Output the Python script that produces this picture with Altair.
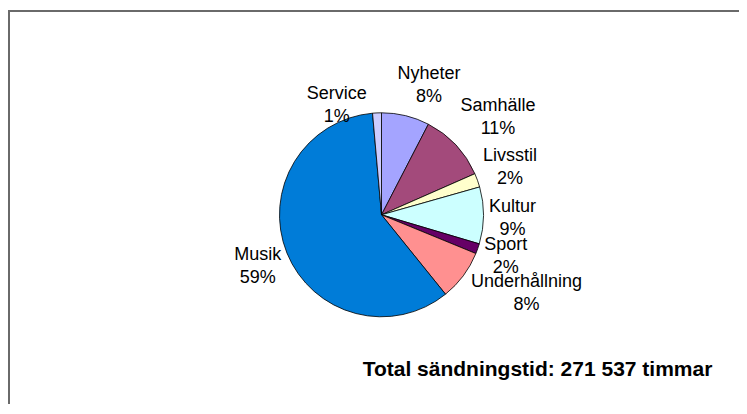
import altair as alt
import pandas as pd

categories = ["Nyheter", "Samhälle", "Livsstil", "Kultur", "Sport", "Underhållning", "Musik", "Service"]
shares = [7.6, 10.8, 2.2, 9.0, 1.6, 8.0, 59.4, 1.4]
pct_labels = ["8%", "11%", "2%", "9%", "2%", "8%", "59%", "1%"]
colors = ["#A4A4FF", "#A34A7B", "#FFFFCC", "#CCFFFF", "#660066", "#FF9090", "#007CD8", "#CCCCFF"]
total_text = ["Total sändningstid: 271 537 timmar"]

df = pd.DataFrame({
    "cat": categories,
    "share": shares,
    "pct": pct_labels,
    "order": list(range(len(categories))),
})

W, H = 731, 396
CX, CY, R = 373.5, 206.8, 102
theta_scale = alt.Scale(domain=[0, 100], range=[0, 6.283185307179586])

# label placement (radius in px, angle nudge in % units) — layout only
label_r = "{'Nyheter':138,'Samhälle':152,'Livsstil':137,'Kultur':131,'Sport':131,'Underhållning':165,'Musik':134,'Service':118}[datum.cat]"
label_nudge = "{'Nyheter':1.8,'Samhälle':0.9,'Livsstil':-0.1,'Kultur':0.3,'Sport':-0.3,'Underhållning':-2.3,'Musik':-0.2,'Service':-5.5}[datum.cat]"

base = alt.Chart(df).transform_window(
    cum="sum(share)", sort=[{"field": "order"}], frame=[None, 0]
).transform_calculate(
    start="datum.cum - datum.share",
    mid="datum.cum - datum.share / 2",
)

arcs = base.mark_arc(radius=R, stroke="black", strokeWidth=0.8).encode(
    theta=alt.Theta("start:Q", scale=theta_scale),
    theta2="cum:Q",
    color=alt.Color("cat:N", scale=alt.Scale(domain=categories, range=colors), legend=None),
    x=alt.value(CX),
    y=alt.value(CY),
)

labels = base.transform_calculate(
    lt="datum.mid + " + label_nudge,
    lr=label_r,
    label="datum.cat + '\\n' + datum.pct",
).mark_text(
    font="Liberation Sans", fontSize=18, lineHeight=23, lineBreak="\n",
    align="center", baseline="middle", color="black", dy=-11.5,
).encode(
    theta=alt.Theta("lt:Q", scale=theta_scale),
    radius=alt.Radius("lr:Q", scale=None),
    text="label:N",
    x=alt.value(CX),
    y=alt.value(CY),
)

total = alt.Chart(pd.DataFrame({"t": total_text})).mark_text(
    font="Liberation Sans", fontSize=21, fontWeight="bold", align="center", baseline="middle", color="black"
).encode(
    text="t:N",
    x=alt.value(529.5),
    y=alt.value(362),
)

frame_src = pd.DataFrame({"t": total_text})
frame_top = alt.Chart(frame_src).mark_rule(stroke="#6a6a6a", strokeWidth=2).encode(
    x=alt.value(0), x2=alt.value(W), y=alt.value(3)
)
frame_left = alt.Chart(frame_src).mark_rule(stroke="#6a6a6a", strokeWidth=2).encode(
    x=alt.value(1), y=alt.value(2), y2=alt.value(H)
)

chart = alt.layer(frame_top, frame_left, arcs, labels, total).properties(
    width=W, height=H, autosize=alt.AutoSizeParams(type="none"), padding=0, background="white"
).configure_view(stroke=None)

chart.save("out.html", embed_options={"renderer": "svg", "actions": False})
